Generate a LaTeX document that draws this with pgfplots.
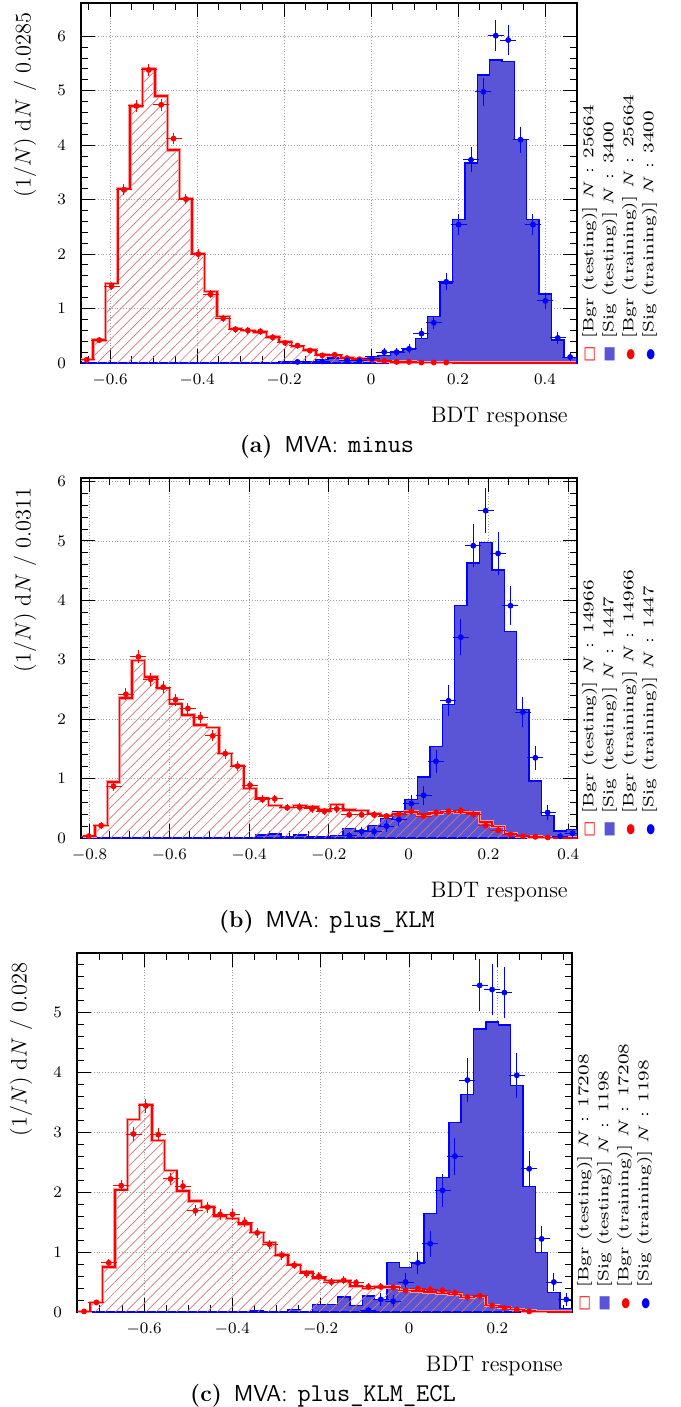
\documentclass[border=0pt]{standalone}
\usepackage{fontspec}
\usepackage{pgfplots}
\pgfplotsset{compat=1.18}
\usepackage{pgfplotstable}
\usetikzlibrary{patterns,patterns.meta}
\newfontfamily\dejavu{DejaVu Sans}
\definecolor{sigfill}{RGB}{90,85,215}
\definecolor{hatchred}{RGB}{212,118,118}

% panel (a): e = left bin edge, c = bin centre
\pgfplotstableread{
e c bt st br ebr sr esr
-0.6680 -0.65375 0.06 0 0.06 0.009 nan nan
-0.6395 -0.62525 0.42 0 0.42 0.024 nan nan
-0.6110 -0.59675 1.46 0 1.41 0.044 nan nan
-0.5825 -0.56825 3.20 0 3.18 0.066 nan nan
-0.5540 -0.53975 4.72 0 4.72 0.080 nan nan
-0.5255 -0.51125 5.40 0 5.38 0.086 nan nan
-0.4970 -0.48275 4.90 0 4.74 0.081 nan nan
-0.4685 -0.45425 3.91 0 4.12 0.075 nan nan
-0.4400 -0.42575 3.02 0 3.01 0.064 nan nan
-0.4115 -0.39725 2.01 0 2.00 0.052 nan nan
-0.3830 -0.36875 1.31 0 1.26 0.042 nan nan
-0.3545 -0.34025 0.85 0 0.82 0.033 nan nan
-0.3260 -0.31175 0.63 0 0.62 0.029 nan nan
-0.2975 -0.28325 0.60 0 0.60 0.029 nan nan
-0.2690 -0.25475 0.57 0.01 0.58 0.028 nan nan
-0.2405 -0.22625 0.48 0.01 0.47 0.025 nan nan
-0.2120 -0.19775 0.39 0.03 0.37 0.022 nan nan
-0.1835 -0.16925 0.30 0.01 0.32 0.021 0.02 0.014
-0.1550 -0.14075 0.24 0.02 0.23 0.018 nan nan
-0.1265 -0.11225 0.16 0.06 0.14 0.014 0.03 0.018
-0.0980 -0.08375 0.14 0.09 0.15 0.014 nan nan
-0.0695 -0.05525 0.09 0.09 0.09 0.011 0.05 0.023
-0.0410 -0.02675 0.07 0.10 0.07 0.010 0.04 0.020
-0.0125 0.00175 0.05 0.12 0.06 0.009 0.08 0.029
0.0160 0.03025 0.03 0.14 0.04 0.007 0.20 0.045
0.0445 0.05875 0.02 0.20 0.02 0.005 0.20 0.045
0.0730 0.08725 0.02 0.26 0.02 0.005 0.26 0.052
0.1015 0.11575 0.01 0.45 0.01 0.004 0.54 0.075
0.1300 0.14425 0.01 0.85 0.01 0.004 0.74 0.087
0.1585 0.17275 0.01 1.47 0.01 0.004 1.49 0.124
0.1870 0.20125 0 2.63 nan nan 2.54 0.162
0.2155 0.22975 0 3.67 nan nan 3.73 0.196
0.2440 0.25825 0 5.29 nan nan 4.98 0.227
0.2725 0.28675 0 5.56 nan nan 6.01 0.249
0.3010 0.31525 0 5.54 nan nan 5.93 0.247
0.3295 0.34375 0 4.10 nan nan 4.10 0.206
0.3580 0.37225 0 2.63 nan nan 2.54 0.162
0.3865 0.40075 0 1.27 nan nan 1.14 0.108
0.4150 0.42925 0 0.42 nan nan 0.46 0.069
0.4435 0.45775 0 0.10 nan nan 0.11 0.034
0.4720 nan 0 0.10 nan nan nan nan
}\tabA

% panel (b)
\pgfplotstableread{
e c bt st br ebr sr esr
-0.8177 -0.80215 0.03 0 0.03 0.008 nan nan
-0.7866 -0.77105 0.21 0 0.21 0.021 nan nan
-0.7555 -0.73995 0.94 0 0.87 0.043 nan nan
-0.7244 -0.70885 2.36 0 2.42 0.072 nan nan
-0.6933 -0.67775 2.99 0 3.05 0.081 nan nan
-0.6622 -0.64665 2.71 0 2.67 0.076 nan nan
-0.6311 -0.61555 2.52 0 2.54 0.074 nan nan
-0.6000 -0.58445 2.26 0 2.33 0.071 nan nan
-0.5689 -0.55335 2.07 0 2.18 0.068 nan nan
-0.5378 -0.52225 1.90 0 2.03 0.066 nan nan
-0.5067 -0.49115 1.86 0 1.72 0.061 nan nan
-0.4756 -0.46005 1.42 0.01 1.42 0.055 nan nan
-0.4445 -0.42895 1.22 0.01 1.21 0.051 nan nan
-0.4134 -0.39785 0.83 0.01 0.89 0.044 nan nan
-0.3823 -0.36675 0.67 0.05 0.65 0.037 nan nan
-0.3512 -0.33565 0.55 0.07 0.66 0.038 nan nan
-0.3201 -0.30455 0.51 0.03 0.51 0.033 nan nan
-0.2890 -0.27345 0.55 0.05 0.52 0.033 nan nan
-0.2579 -0.24235 0.52 0.03 0.49 0.032 nan nan
-0.2268 -0.21125 0.47 0.03 0.45 0.031 nan nan
-0.1957 -0.18015 0.56 0.04 0.49 0.032 nan nan
-0.1646 -0.14905 0.47 0.16 0.39 0.029 0.04 0.030
-0.1335 -0.11795 0.46 0.12 0.39 0.029 0.11 0.049
-0.1024 -0.08685 0.41 0.21 0.39 0.029 0.11 0.049
-0.0713 -0.05575 0.38 0.33 0.37 0.028 0.20 0.067
-0.0402 -0.02465 0.41 0.44 0.40 0.029 0.31 0.083
-0.0091 0.00645 0.44 0.65 0.45 0.031 0.58 0.114
0.0220 0.03755 0.40 1.03 0.37 0.028 0.72 0.126
0.0531 0.06865 0.42 1.54 0.43 0.030 1.29 0.169
0.0842 0.09975 0.45 2.25 0.45 0.031 2.31 0.227
0.1153 0.13085 0.43 3.91 0.46 0.031 3.38 0.274
0.1464 0.16195 0.42 4.63 0.40 0.029 4.92 0.331
0.1775 0.19305 0.27 4.97 0.21 0.021 5.51 0.350
0.2086 0.22415 0.19 4.51 0.13 0.017 4.79 0.326
0.2397 0.25525 0.08 3.48 0.06 0.011 3.91 0.295
0.2708 0.28635 0.03 2.16 0.03 0.008 2.12 0.217
0.3019 0.31745 0.02 0.96 0.02 0.007 1.35 0.173
0.3330 0.34855 0.01 0.38 0.01 0.005 0.43 0.098
0.3641 0.37965 0 0.12 nan nan 0.03 0.026
0.3952 0.41075 0 0.14 nan nan 0.08 0.042
0.4263 nan 0 0.14 nan nan nan nan
}\tabB

% panel (c)
\pgfplotstableread{
e c bt st br ebr sr esr
-0.750 -0.736 0.01 0 0.01 0.005 nan nan
-0.722 -0.708 0.16 0 0.16 0.018 nan nan
-0.694 -0.680 0.75 0 0.82 0.041 nan nan
-0.666 -0.652 2.04 0 2.11 0.066 nan nan
-0.638 -0.624 3.21 0 2.97 0.079 nan nan
-0.610 -0.596 3.46 0 3.44 0.084 nan nan
-0.582 -0.568 2.86 0 2.96 0.078 nan nan
-0.554 -0.540 2.36 0 2.22 0.068 nan nan
-0.526 -0.512 2.02 0 2.10 0.066 nan nan
-0.498 -0.484 1.85 0 1.69 0.059 nan nan
-0.470 -0.456 1.75 0 1.75 0.060 nan nan
-0.442 -0.428 1.60 0 1.63 0.058 nan nan
-0.414 -0.400 1.56 0 1.63 0.058 nan nan
-0.386 -0.372 1.47 0 1.50 0.056 nan nan
-0.358 -0.344 1.33 0.03 1.32 0.052 nan nan
-0.330 -0.316 1.16 0 1.13 0.048 nan nan
-0.302 -0.288 0.95 0 0.95 0.044 nan nan
-0.274 -0.260 0.79 0.04 0.78 0.040 nan nan
-0.246 -0.232 0.67 0 0.64 0.036 nan nan
-0.218 -0.204 0.57 0.13 0.60 0.035 nan nan
-0.190 -0.176 0.53 0.13 0.50 0.032 nan nan
-0.162 -0.148 0.52 0.25 0.53 0.033 nan nan
-0.134 -0.120 0.43 0.11 0.49 0.032 nan nan
-0.106 -0.092 0.39 0.27 0.42 0.030 0.03 0.030
-0.078 -0.064 0.42 0.21 0.42 0.030 0.21 0.079
-0.050 -0.036 0.42 0.83 0.41 0.029 0.18 0.073
-0.022 -0.008 0.36 0.74 0.36 0.027 0.50 0.122
0.006 0.020 0.35 0.82 0.39 0.028 0.82 0.156
0.034 0.048 0.33 1.64 0.37 0.028 1.14 0.184
0.062 0.076 0.31 2.24 0.36 0.027 2.03 0.246
0.090 0.104 0.29 3.16 0.32 0.026 2.60 0.278
0.118 0.132 0.24 3.63 0.25 0.023 3.87 0.340
0.146 0.160 0.26 4.72 0.27 0.024 5.45 0.403
0.174 0.188 0.11 4.84 0.11 0.015 5.38 0.401
0.202 0.216 0.08 4.79 0.07 0.012 5.33 0.399
0.230 0.244 0.04 3.78 0.04 0.009 3.95 0.343
0.258 0.272 0.02 2.09 0.01 0.005 2.39 0.267
0.286 0.300 0.01 0.99 nan nan 1.22 0.191
0.314 0.328 0 0.33 nan nan 0.50 0.122
0.342 0.356 0 0.06 nan nan 0.21 0.079
0.370 nan 0 0.06 nan nan nan nan
}\tabC

\pgfplotsset{
  tmva/.style={
    scale only axis,
    anchor=south west,
    ymin=0,
    axis line style={line width=0.8pt},
    tick align=inside,
    xtick pos=both, ytick pos=both,
    xtick={-0.8,-0.6,-0.4,-0.2,0,0.2,0.4},
    ytick={0,1,2,3,4,5,6},
    minor x tick num=3, minor y tick num=4,
    major tick length=7pt, minor tick length=3.5pt,
    every tick/.style={black, line width=0.5pt},
    grid=major,
    major grid style={densely dotted, gray!75, line width=0.45pt},
    tick label style={font=\fontsize{7.8}{9}\selectfont},
    xticklabel style={yshift=-2pt},
    yticklabel style={xshift=-4pt},
    label style={font=\fontsize{11.2}{13}\selectfont, inner sep=0pt},
    xlabel={BDT response},
    xlabel style={at={(axis description cs:0.982,-0.151)}, anchor=east},
    ylabel style={at={(axis description cs:-0.113,0.975)}, anchor=east},
  },
  sigtest/.style={const plot, draw=blue, line width=0.7pt, fill=sigfill, forget plot},
  bgrhatch/.style={const plot, draw=none,
    pattern={Lines[angle=45,distance=3.6pt,line width=0.35pt]}, pattern color=hatchred, forget plot},
  bgrhalo/.style={const plot, draw=red!40, line width=1.7pt, fill=none, forget plot},
  bgrline/.style={const plot, draw=red, line width=0.75pt, fill=none, forget plot},
  train/.style 2 args={only marks, mark=*, mark size=1.25pt, color=#1, forget plot,
    error bars/x dir=both, error bars/y dir=both, error bars/y explicit,
    error bars/x fixed=#2,
    error bars/error bar style={line width=0.5pt},
    error bars/error mark options={mark size=0.9pt, line width=0.5pt}},
}
\newcommand\tmvalegend[2]{%
  \begin{tabular}{@{}c@{\hspace{3pt}}l@{}}
  {\dejavu\fontsize{6.5}{8}\selectfont\color{red}□} & [Bgr (testing)] $N$ : #1\\
  {\dejavu\fontsize{6.5}{8}\selectfont\color{sigfill}■} & [Sig (testing)] $N$ : #2\\
  {\dejavu\fontsize{5}{6}\selectfont\color{red}●} & [Bgr (training)] $N$ : #1\\
  {\dejavu\fontsize{5}{6}\selectfont\color{blue}●} & [Sig (training)] $N$ : #2
  \end{tabular}}
\tikzset{tmvaleg/.style={rotate=90, xscale=1.33, anchor=north west, inner sep=0pt,
  font=\fontsize{7.5}{10}\selectfont}}

\begin{document}
\begin{tikzpicture}
\path[use as bounding box] (0pt,0pt) rectangle (340pt,-703.5pt);

% ---------------- (a)
\begin{axis}[tmva, name=axA, at={(40.5pt,-181.5pt)}, width=248pt, height=180pt,
  xmin=-0.667, xmax=0.4735, ymax=6.61,
  ylabel={(1/$N$) d$N$ / 0.0285}]
\addplot[sigtest] table[x=e, y=st] {\tabA} \closedcycle;
\addplot[bgrhatch] table[x=e, y=bt] {\tabA} \closedcycle;
\addplot[bgrhalo] table[x=e, y=bt] {\tabA};
\addplot[bgrline] table[x=e, y=bt] {\tabA};
\addplot[train={red}{0.01425}] table[x=c, y=br, y error=ebr] {\tabA};
\addplot[train={blue}{0.01425}] table[x=c, y=sr, y error=esr] {\tabA};
\end{axis}
\path (axA.south east) ++(1pt,0pt) node[tmvaleg] {\tmvalegend{25664}{3400}};
\node[anchor=base, font=\fontsize{11.5}{13}\selectfont] at (163.5pt,-226pt)
  {\textbf{(a)}\hspace{6pt}\textsf{MVA:}\hspace{5pt}{\fontsize{12.8}{14}\ttfamily minus}};

% ---------------- (b)
\begin{axis}[tmva, name=axB, at={(40.5pt,-419pt)}, width=248pt, height=180pt,
  xmin=-0.8215, xmax=0.422, ymax=6.06,
  ylabel={(1/$N$) d$N$ / 0.0311}]
\addplot[sigtest] table[x=e, y=st] {\tabB} \closedcycle;
\addplot[bgrhatch] table[x=e, y=bt] {\tabB} \closedcycle;
\addplot[bgrhalo] table[x=e, y=bt] {\tabB};
\addplot[bgrline] table[x=e, y=bt] {\tabB};
\addplot[train={red}{0.01555}] table[x=c, y=br, y error=ebr] {\tabB};
\addplot[train={blue}{0.01555}] table[x=c, y=sr, y error=esr] {\tabB};
\end{axis}
\path (axB.south east) ++(1pt,0pt) node[tmvaleg] {\tmvalegend{14966}{1447}};
\node[anchor=base, font=\fontsize{11.5}{13}\selectfont] at (163.5pt,-463.5pt)
  {\textbf{(b)}\hspace{6pt}\textsf{MVA:}\hspace{5pt}{\fontsize{12.8}{14}\ttfamily plus\_KLM}};

% ---------------- (c)
\begin{axis}[tmva, name=axC, at={(38.5pt,-656pt)}, width=247.5pt, height=179.5pt,
  xmin=-0.752, xmax=0.369, ymax=5.99,
  ylabel={(1/$N$) d$N$ / 0.028}]
\addplot[sigtest] table[x=e, y=st] {\tabC} \closedcycle;
\addplot[bgrhatch] table[x=e, y=bt] {\tabC} \closedcycle;
\addplot[bgrhalo] table[x=e, y=bt] {\tabC};
\addplot[bgrline] table[x=e, y=bt] {\tabC};
\addplot[train={red}{0.014}] table[x=c, y=br, y error=ebr] {\tabC};
\addplot[train={blue}{0.014}] table[x=c, y=sr, y error=esr] {\tabC};
\end{axis}
\path (axC.south east) ++(1pt,0pt) node[tmvaleg] {\tmvalegend{17208}{1198}};
\node[anchor=base, font=\fontsize{11.5}{13}\selectfont] at (161.5pt,-700.5pt)
  {\textbf{(c)}\hspace{6pt}\textsf{MVA:}\hspace{5pt}{\fontsize{12.8}{14}\ttfamily plus\_KLM\_ECL}};
\end{tikzpicture}
\end{document}
